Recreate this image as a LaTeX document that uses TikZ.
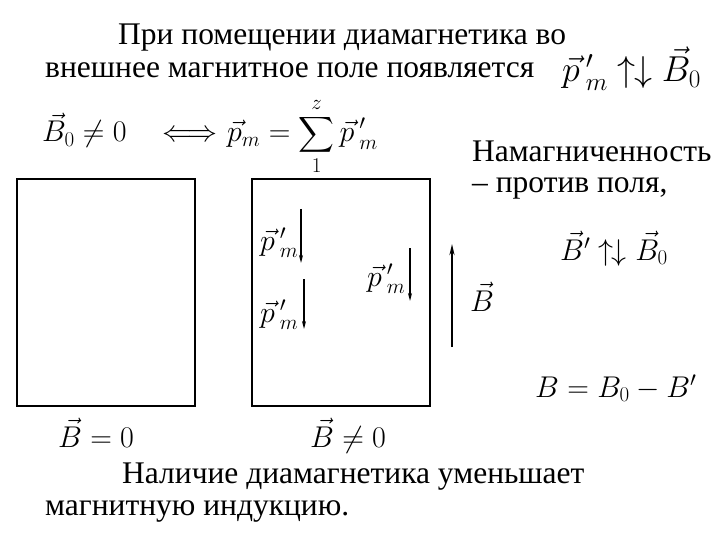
\RequirePackage{fix-cm}
\documentclass[tikz,border=0pt]{standalone}
\usepackage{amsmath}
\usepackage{fontspec}
\setmainfont{Liberation Serif}
\newfontfamily\slidefont{Liberation Serif}
\usetikzlibrary{arrows.meta}
\begin{document}
\begin{tikzpicture}
	[x=1pt, y=-1pt,
	txt/.style={anchor=base west, inner sep=0pt, font=\slidefont\fontsize{31.5}{36}\selectfont},
	eq/.style={anchor=base west, inner sep=0pt, font=\fontsize{30}{36}\selectfont},
	bigeq/.style={anchor=base west, inner sep=0pt, font=\fontsize{36}{42}\selectfont},
	box/.style={draw, line width=2pt},
	moment/.style={-{Stealth[length=8pt,width=4pt]}, line width=1.3pt},
	field/.style={-{Stealth[length=11pt,width=5pt]}, line width=2pt}]

	\useasboundingbox (0,0) rectangle (720,540);

	% Top text
	\node[txt] (l1) at (118,45) {При помещении диамагнетика во};
	\node[txt] (l2) at (45,78) {внешнее магнитное поле появляется};
	\node[bigeq] (topeq) at (562,82) {$\vec{p}\,'_m \mathrel{\uparrow\mkern-1mu\downarrow} \vec{B}_0$};

	% Equivalence line
	\node[eq] (bnz) at (42,142) {$\vec{B}_0 \neq 0$};
	\node[eq] (equiv) at (162,142) {$\Longleftrightarrow$};
	\node[eq] (sumeq) at (227,142) {$\vec{p}_m = \displaystyle\sum_{1}^{z} \vec{p}\,'_m$};

	% Right column
	\node[txt] (magn1) at (472,162) {Намагниченность};
	\node[txt] (magn2) at (472,193) {– против поля,};
	\node[eq] (bpar) at (560,260) {$\vec{B}' \mathrel{\uparrow\mkern-1mu\downarrow} \vec{B}_0$};
	\node[eq] (bsum) at (535,397) {$B = B_0 - B'$};

	% Draw boxes
	\draw[box] (17,179) rectangle (195,406);
	\draw[box] (252,179) rectangle (430,406);

	% Magnetic moments
	\node[eq] (pm1) at (260,250) {$\vec{p}\,'_m$};
	\node[eq] (pm2) at (260,322) {$\vec{p}\,'_m$};
	\node[eq] (pm3) at (367,286) {$\vec{p}\,'_m$};

	\coordinate (A1) at (301,209);
	\coordinate (E1) at (301,263);
	\coordinate (A2) at (304,279);
	\coordinate (E2) at (304,329);
	\coordinate (A3) at (410,248);
	\coordinate (E3) at (410,301);

	\draw[moment] (A1) -- (E1);
	\draw[moment] (A2) -- (E2);
	\draw[moment] (A3) -- (E3);

	% Field
	\coordinate (FS) at (452,347);
	\coordinate (FE) at (452,244);
	\draw[field] (FS) -- (FE);
	\node[eq] (bvec) at (470,311) {$\vec{B}$};

	% Labels under boxes
	\node[eq] (bz1) at (58,447) {$\vec{B} = 0$};
	\node[eq] (bz2) at (310,447) {$\vec{B} \neq 0$};

	% Bottom text
	\node[txt] (l3) at (122,483) {Наличие диамагнетика уменьшает};
	\node[txt] (l4) at (45,515) {магнитную индукцию.};

\end{tikzpicture}
\end{document}
